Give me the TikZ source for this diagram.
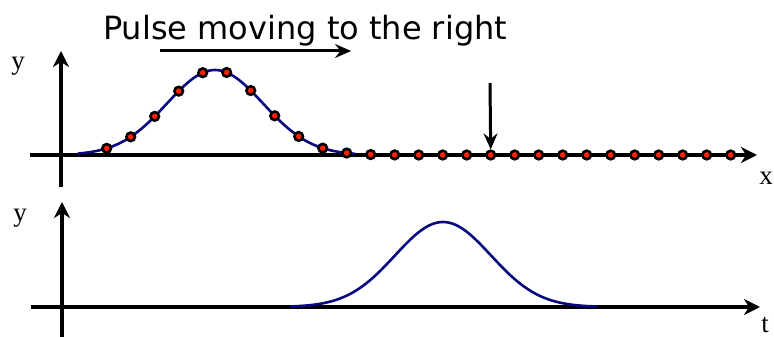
\documentclass[tikz,border=0pt]{standalone}
\usepackage{fontspec}
\setmainfont{Liberation Serif}
\newfontfamily\titlefont{DejaVu Sans}
\usetikzlibrary{arrows.meta, positioning}
\definecolor{pulseblue}{RGB}{8,8,128}
\definecolor{dotred}{RGB}{255,32,0}

\begin{document}
\begin{tikzpicture}[
  x=1pt, y=-1pt,
  axis/.style = {
    -{Stealth[length=16pt, width=16pt, inset=5pt]}, line width=3.4pt
  },
  pointer/.style = {
    -{Stealth[length=16pt, width=14pt, inset=5.5pt]}, line width=3pt
  },
  pulse/.style = {
    pulseblue, line width=2.6pt, line join=round
  },
  dot/.style = {
    circle, draw=black, fill=dotred, line width=2.6pt,
    inner sep=0pt, minimum size=8.6pt
  },
  varlabel/.style = {
    font=\fontsize{27}{27}\selectfont, inner sep=0pt, anchor=base
  },
  title/.style = {
    font=\titlefont\fontsize{32}{32}\selectfont, inner sep=0pt, anchor=base west
  }
]
\useasboundingbox (0,0) rectangle (774,337);

% ====== TOP PANEL: y against x ======
\coordinate (xstart) at (30,155);
\coordinate (xend)   at (757,155);
\coordinate (ystart) at (61,187);
\coordinate (yend)   at (61,51);
\draw[axis] (xstart) -- (xend);
\draw[axis] (ystart) -- (yend);

\node[varlabel] (ytop) at (18,70) {y};
\node[varlabel] (xlab) at (766,184) {x};

% pulse shape at the first instant
\draw[pulse] plot[domain=78:355, samples=90, smooth]
  (\x, {155-85*exp(-((\x-215)/48)^2/2)});

% the string elements
\foreach \k in {0,...,26} {
  \pgfmathsetmacro\dx{106.7+24*\k}
  \pgfmathsetmacro\dy{155-85*exp(-min(((\dx-215)/48)^2/2, 12))}
  \node[dot] (d\k) at (\dx,\dy) {};
}

% ====== TITLE AND POINTERS ======
\node[title] (head) at (103,40) {Pulse moving to the right};
\coordinate (movestart) at (160,51);
\coordinate (moveend)   at (351,51);
\draw[pointer] (movestart) -- (moveend);

\coordinate (watch) at (490,83);
\draw[pointer] (watch) -- (d16.north);

% ====== BOTTOM PANEL: y against t ======
\coordinate (tstart) at (31,307);
\coordinate (tend)   at (760,307);
\coordinate (ybstart) at (62,340);
\coordinate (ybend)   at (62,202);
\draw[axis] (tstart) -- (tend);
\draw[axis] (ybstart) -- (ybend);

\node[varlabel] (ybot) at (20,221) {y};
\node[varlabel] (tlab) at (765,332) {t};

% displacement of the marked element in time
\draw[pulse] plot[domain=290:597, samples=90, smooth]
  (\x, {307-85*exp(-((\x-443)/48)^2/2)});

\end{tikzpicture}
\end{document}
